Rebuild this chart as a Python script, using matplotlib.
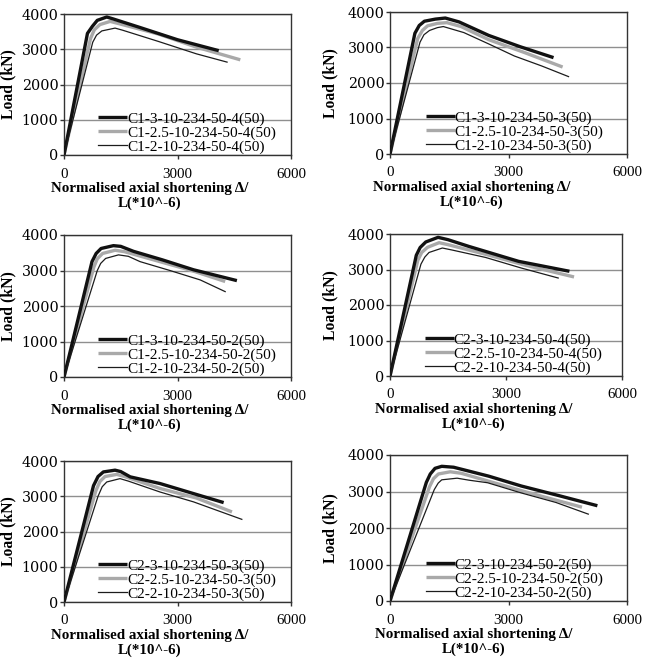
import matplotlib
matplotlib.use("Agg")
import matplotlib.pyplot as plt

# ---------------- data ----------------
x_ticks = [0, 3000, 6000]
y_ticks = [0, 1000, 2000, 3000, 4000]

# Panel 1
p1_labels = ["C1-3-10-234-50-4(50)", "C1-2.5-10-234-50-4(50)", "C1-2-10-234-50-4(50)"]
p1_a_x = [0, 620, 750, 880, 1130, 1300, 2000, 3000, 4090]
p1_a_y = [0, 3450, 3650, 3820, 3915, 3860, 3620, 3270, 2960]
p1_b_x = [0, 700, 800, 950, 1220, 1400, 2500, 3500, 4660]
p1_b_y = [0, 3300, 3550, 3700, 3790, 3740, 3430, 3060, 2700]
p1_c_x = [0, 760, 860, 1000, 1350, 1550, 2500, 3500, 4310]
p1_c_y = [0, 3200, 3400, 3520, 3600, 3540, 3220, 2870, 2635]

# Panel 2
p2_labels = ["C1-3-10-234-50-3(50)", "C1-2.5-10-234-50-3(50)", "C1-2-10-234-50-3(50)"]
p2_a_x = [0, 630, 740, 870, 1150, 1400, 1750, 2500, 3300, 4140]
p2_a_y = [0, 3400, 3620, 3740, 3800, 3830, 3720, 3340, 3020, 2715]
p2_b_x = [0, 700, 820, 950, 1200, 1440, 1800, 2500, 3400, 4370]
p2_b_y = [0, 3250, 3480, 3610, 3680, 3700, 3590, 3220, 2860, 2450]
p2_c_x = [0, 760, 860, 1000, 1200, 1350, 1870, 2500, 3150, 3840, 4520]
p2_c_y = [0, 3150, 3360, 3480, 3560, 3590, 3420, 3100, 2760, 2480, 2180]

# Panel 3
p3_labels = ["C1-3-10-234-50-2(50)", "C1-2.5-10-234-50-2(50)", "C1-2-10-234-50-2(50)"]
p3_a_x = [0, 740, 850, 980, 1306, 1500, 1836, 2600, 3424, 4570]
p3_a_y = [0, 3250, 3480, 3620, 3700, 3680, 3540, 3300, 3020, 2715]
p3_b_x = [0, 790, 880, 1020, 1350, 1600, 2500, 3400, 4260]
p3_b_y = [0, 3100, 3330, 3480, 3570, 3530, 3260, 2990, 2690]
p3_c_x = [0, 880, 970, 1100, 1440, 1700, 2010, 2800, 3600, 4260]
p3_c_y = [0, 3000, 3200, 3340, 3440, 3400, 3250, 3000, 2735, 2405]

# Panel 4
p4_labels = ["C2-3-10-234-50-4(50)", "C2-2.5-10-234-50-4(50)", "C2-2-10-234-50-4(50)"]
p4_a_x = [0, 680, 780, 925, 1243, 1500, 2040, 3325, 4640]
p4_a_y = [0, 3400, 3620, 3775, 3906, 3840, 3650, 3230, 2950]
p4_b_x = [0, 720, 820, 970, 1270, 1500, 2500, 3500, 4760]
p4_b_y = [0, 3260, 3480, 3625, 3755, 3700, 3420, 3120, 2790]
p4_c_x = [0, 800, 900, 1010, 1354, 1600, 2470, 3400, 4350]
p4_c_y = [0, 3150, 3350, 3480, 3605, 3550, 3340, 3040, 2760]

# Panel 5
p5_labels = ["C2-3-10-234-50-3(50)", "C2-2.5-10-234-50-3(50)", "C2-2-10-234-50-3(50)"]
p5_a_x = [0, 780, 900, 1040, 1350, 1500, 1750, 2540, 3425, 4220]
p5_a_y = [0, 3300, 3560, 3690, 3740, 3700, 3550, 3360, 3075, 2820]
p5_b_x = [0, 840, 950, 1085, 1395, 1600, 2540, 3500, 4440]
p5_b_y = [0, 3150, 3420, 3560, 3620, 3560, 3220, 2950, 2555]
p5_c_x = [0, 900, 1010, 1130, 1480, 1700, 2540, 3425, 4700]
p5_c_y = [0, 3000, 3270, 3405, 3500, 3430, 3120, 2840, 2345]

# Panel 6
p6_labels = ["C2-3-10-234-50-2(50)", "C2-2.5-10-234-50-2(50)", "C2-2-10-234-50-2(50)"]
p6_a_x = [0, 920, 1020, 1140, 1310, 1610, 2500, 3325, 4300, 5250]
p6_a_y = [0, 3250, 3480, 3635, 3690, 3665, 3420, 3150, 2880, 2610]
p6_b_x = [0, 1000, 1100, 1225, 1525, 1800, 2600, 3500, 4860]
p6_b_y = [0, 3130, 3350, 3480, 3540, 3500, 3250, 2970, 2570]
p6_c_x = [0, 1120, 1220, 1310, 1700, 2000, 2470, 3325, 4200, 5020]
p6_c_y = [0, 3050, 3230, 3320, 3365, 3310, 3240, 2960, 2700, 2380]

x_label = "Normalised axial shortening \u0394/\nL(*10^-6)"
y_label = "Load (kN)"

# ---------------- layout ----------------
W, H = 650, 668
fig = plt.figure(figsize=(W / 100, H / 100), dpi=100)

# (left, top, right, bottom) pixel boxes of each plot area
boxes = [
    (64, 14, 291, 155),
    (390, 12, 627, 154),
    (64, 235, 291, 377),
    (390, 234, 622, 376),
    (64, 461, 291, 602),
    (390, 455, 627, 601),
]
xlabel_center_px = [150, 472, 150, 474, 150, 474]
ylabel_center_px = [8, 330, 8, 330, 8, 330]

panels = [
    (p1_labels, p1_a_x, p1_a_y, p1_b_x, p1_b_y, p1_c_x, p1_c_y),
    (p2_labels, p2_a_x, p2_a_y, p2_b_x, p2_b_y, p2_c_x, p2_c_y),
    (p3_labels, p3_a_x, p3_a_y, p3_b_x, p3_b_y, p3_c_x, p3_c_y),
    (p4_labels, p4_a_x, p4_a_y, p4_b_x, p4_b_y, p4_c_x, p4_c_y),
    (p5_labels, p5_a_x, p5_a_y, p5_b_x, p5_b_y, p5_c_x, p5_c_y),
    (p6_labels, p6_a_x, p6_a_y, p6_b_x, p6_b_y, p6_c_x, p6_c_y),
]

SERIF = ["Liberation Serif", "DejaVu Serif"]
WIDE_SERIF = ["DejaVu Serif"]
spine_col = "#333333"

for i, (labels, ax_, ay_, bx_, by_, cx_, cy_) in enumerate(panels):
    l, t, r, b = boxes[i]
    ax = fig.add_axes([l / W, 1 - b / H, (r - l) / W, (b - t) / H])
    ax.plot(ax_, ay_, color="#111111", lw=2.4, solid_capstyle="butt", label=labels[0], zorder=4)
    ax.plot(bx_, by_, color="#a9a9a9", lw=2.4, solid_capstyle="butt", label=labels[1], zorder=3)
    ax.plot(cx_, cy_, color="#1c1c1c", lw=0.9, label=labels[2], zorder=5)

    ax.set_xlim(0, 6000)
    ax.set_ylim(0, 4000)
    ax.set_xticks(x_ticks)
    ax.set_yticks(y_ticks)
    ax.set_xticklabels([str(v) for v in x_ticks], family=SERIF, fontsize=10.8)
    ax.set_yticklabels([str(v) for v in y_ticks], family=WIDE_SERIF, fontsize=10.3)
    ax.tick_params(axis="x", direction="out", length=3, width=1, pad=6, color=spine_col)
    ax.tick_params(axis="y", direction="out", length=3, width=1, pad=1, color=spine_col)
    ax.yaxis.grid(True, color="#8f8f8f", lw=1)
    ax.set_axisbelow(True)
    for s in ax.spines.values():
        s.set_color(spine_col)
        s.set_linewidth(1)

    ax.set_xlabel(x_label, family=SERIF, fontsize=10.8, fontweight="bold", linespacing=1.12)
    ax.xaxis.set_label_coords((xlabel_center_px[i] - l) / (r - l), -27 / (b - t))
    ax.set_ylabel(y_label, family=SERIF, fontsize=11.3, fontweight="bold", va="center")
    ax.yaxis.set_label_coords((ylabel_center_px[i] - l) / (r - l), 0.5)

    ax.legend(loc="lower left", bbox_to_anchor=(0.15, 0.01), frameon=False,
              prop={"family": SERIF, "size": 11}, handlelength=1.9,
              handletextpad=0.0, labelspacing=0.0, borderpad=0, borderaxespad=0)

fig.savefig("out.png", dpi=100)
